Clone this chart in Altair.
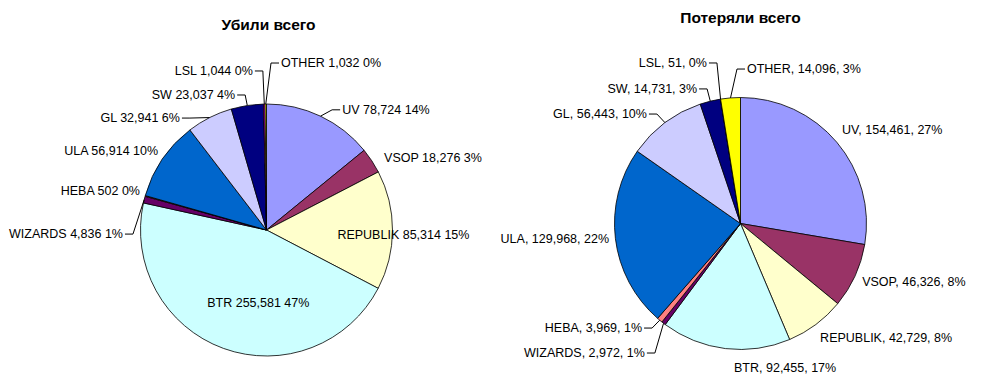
import math
import altair as alt
import pandas as pd

# ---------------- data ----------------
teams = ["UV", "VSOP", "REPUBLIK", "BTR", "WIZARDS", "HEBA", "ULA", "GL", "SW", "LSL", "OTHER"]
killed = [78724, 18276, 85314, 255581, 4836, 502, 56914, 32941, 23037, 1044, 1032]
killed_pct = [14, 3, 15, 47, 1, 0, 10, 6, 4, 0, 0]
lost = [154461, 46326, 42729, 92455, 2972, 3969, 129968, 56443, 14731, 51, 14096]
lost_pct = [27, 8, 8, 17, 1, 1, 22, 10, 3, 0, 3]
titles = ["Убили всего", "Потеряли всего"]

# ---------------- style / layout ----------------
colors = ["#9999FF", "#993366", "#FFFFCC", "#CCFFFF", "#660066", "#FF8080",
          "#0066CC", "#CCCCFF", "#000080", "#FF00FF", "#FFFF00"]
W, H = 975, 373
R = 126
FONT = "Liberation Sans"
centers = [(258.5, 222.0), (732.5, 215.5)]
title_pos = [(260.5, -205.5), (732.5, -206.0)]  # (x, dy from pie centre)
# per-label placement: (radius, angle nudge in degrees, align, leader line)
place_left = [
    (142, 6.8, "left", True), (138, 1.8, "left", False), (137, 2.0, "center", False),
    (73.5, -13.6, "center", False), (143.6, -15.6, "right", True), (132.4, 1.4, "right", False),
    (134.2, 1.9, "right", False), (141.5, -10.9, "right", True), (138.6, -4.3, "right", True),
    (159.6, -3.9, "right", True), (167.6, 5.3, "left", True),
]
place_right = [
    (138, -2.4, "left", False), (135, 1.1, "left", False), (139.4, 1.9, "left", False),
    (144.6, -4.3, "left", False), (161, -1.2, "right", True), (143.6, 3.4, "right", True),
    (132.4, 0.2, "right", False), (144, -3.7, "right", True), (141.4, -4.0, "right", True),
    (164, -2.7, "right", True), (154.6, 6.95, "left", True),
]


def fmt(v):
    return f"{v:,}"


pies = [
    (killed, killed_pct, " ", place_left),
    (lost, lost_pct, ", ", place_right),
]

arc_layers = []
label_rows = []
line_rows = []
title_rows = []
for p, (vals, pcts, sep, place) in enumerate(pies):
    cx, cy = centers[p]
    df = pd.DataFrame({"team": teams, "value": vals, "idx": list(range(len(teams)))})
    arc_layers.append(
        alt.Chart(df).mark_arc(outerRadius=R, stroke="black", strokeWidth=0.8).encode(
            theta=alt.Theta("value:Q", stack=True),
            order=alt.Order("idx:Q"),
            color=alt.Color("team:N", scale=alt.Scale(domain=teams, range=colors), legend=None),
            x=alt.value(cx),
            y=alt.value(cy),
        )
    )
    total = float(sum(vals))
    cum = 0.0
    for i, t in enumerate(teams):
        a0 = cum / total * 360.0
        cum += vals[i]
        a1 = cum / total * 360.0
        mid = (a0 + a1) / 2.0
        r, off, align, leader = place[i]
        a = math.radians(mid + off)
        lx = cx + r * math.sin(a)
        ly = cy - r * math.cos(a)
        text = f"{t}{sep}{fmt(vals[i])}{sep}{pcts[i]}%"
        label_rows.append({"x": lx, "y": ly, "text": text, "align": align})
        if leader:
            sgn = 1 if align == "right" else -1
            m = math.radians(mid)
            ex = cx + R * math.sin(m)
            ey = cy - R * math.cos(m)
            key = f"{p}-{t}"
            pts = [(lx + sgn * 2, ly), (lx + sgn * 10, ly), (ex, ey)]
            for k, (px, py) in enumerate(pts):
                line_rows.append({"key": key, "ord": k, "x": px, "y": py})
    tx, tdy = title_pos[p]
    title_rows.append({"x": tx, "y": cy + tdy, "text": titles[p]})

labels = pd.DataFrame(label_rows)
lines = pd.DataFrame(line_rows)
tdf = pd.DataFrame(title_rows)

X = lambda: alt.X("x:Q", scale=None, axis=None)
Y = lambda: alt.Y("y:Q", scale=None, axis=None)

line_layer = alt.Chart(lines).mark_line(color="black", strokeWidth=1).encode(
    x=X(), y=Y(), detail="key:N", order="ord:Q"
)

text_layers = []
for al in ["left", "right", "center"]:
    sub = labels[labels["align"] == al]
    text_layers.append(
        alt.Chart(sub).mark_text(
            align=al, baseline="middle", font=FONT, fontSize=12.5, color="black"
        ).encode(x=X(), y=Y(), text="text:N")
    )

title_layer = alt.Chart(tdf).mark_text(
    align="center", baseline="middle", font=FONT, fontSize=15.5, fontWeight="bold", color="black"
).encode(x=X(), y=Y(), text="text:N")

chart = alt.layer(*arc_layers, line_layer, *text_layers, title_layer).resolve_scale(
    theta="independent"
).properties(
    width=W, height=H, padding=0, autosize=alt.AutoSizeParams(type="none"), background="white"
).configure_view(stroke=None)

chart.save("out.html", embed_options={"renderer": "svg", "actions": False})
